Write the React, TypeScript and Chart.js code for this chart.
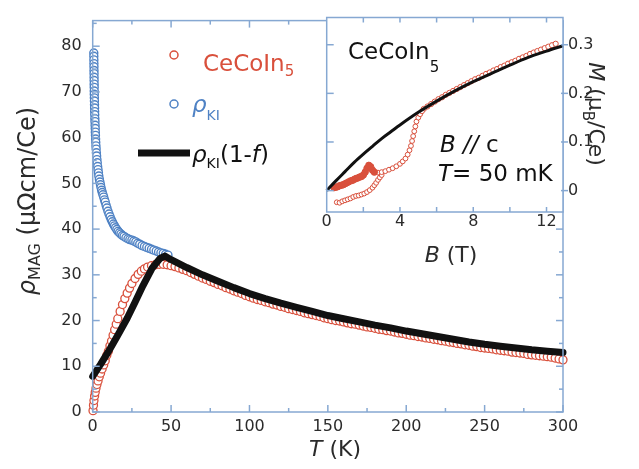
import { useEffect, useRef } from "react";
import { Chart, registerables } from "chart.js";

Chart.register(...registerables);

const FONT = "'DejaVu Sans', 'Liberation Sans', sans-serif";
const FRAME = "#86a8d2";
const TEXT = "#2b2b2b";
const RED = "#d9503c";
const BLUE = "#4f82c4";

// ---- main panel: magnetic resistivity vs temperature ----
const tempTicks = [0, 50, 100, 150, 200, 250, 300];
const rhoTicks = [0, 10, 20, 30, 40, 50, 60, 70, 80];

// rho_KI (open blue circles)
const tempKI = [0.7, 0.72, 0.75, 0.77, 0.8, 0.82, 0.85, 0.87, 0.9, 0.92, 0.95, 0.97, 1.0, 1.05, 1.1, 1.15, 1.2, 1.25, 1.3, 1.37, 1.45, 1.52, 1.6, 1.67, 1.75, 1.85, 1.95, 2.07, 2.2, 2.35, 2.5, 2.7, 2.9, 3.15, 3.4, 3.65, 3.9, 4.25, 4.6, 4.95, 5.3, 5.7, 6.1, 6.55, 7, 7.5, 8, 8.55, 9.1, 9.75, 10.4, 11.1, 11.8, 12.5, 13.2, 13.9, 14.6, 15.4, 16.2, 17.1, 18, 19, 20, 21.2, 22.5, 23.7, 25, 26.2, 27.5, 28.7, 30, 31.5, 33, 34.5, 36, 37.5, 39, 40.5, 42, 43.5, 45, 46.5, 48];
const rhoKI = [78.5, 77.8, 77, 76.2, 75.5, 74.7, 74, 73.2, 72.5, 71.7, 71, 70.2, 69.5, 68.7, 68, 67.2, 66.5, 65.7, 65, 64.2, 63.5, 62.7, 62, 61.2, 60.5, 59.7, 59, 58.2, 57.5, 56.7, 56, 55.2, 54.5, 53.7, 53, 52.3, 51.6, 50.9, 50.3, 49.7, 49.1, 48.5, 48, 47.5, 47, 46.4, 45.9, 45.2, 44.6, 43.9, 43.3, 42.7, 42.1, 41.6, 41.1, 40.7, 40.3, 39.9, 39.5, 39.2, 38.9, 38.6, 38.4, 38.1, 37.9, 37.7, 37.6, 37.4, 37.2, 36.9, 36.7, 36.4, 36.2, 36.0, 35.8, 35.6, 35.4, 35.2, 35.0, 34.8, 34.7, 34.5, 34.3];

// CeCoIn5 (open red circles)
const tempCeCoIn5 = [0.2, 0.5, 0.8, 1.2, 1.6, 2.1, 2.7, 3.4, 4.2, 5, 6, 7, 8, 9, 10, 11, 12, 13, 14, 15, 16, 17.5, 19, 20.5, 22, 23.5, 25, 27, 29, 31, 33, 35, 37.5, 40, 42.5, 45, 47.5, 50,
  52.5, 55, 57.5, 60, 62.5, 65, 67.5, 70, 72.5, 75, 77.5, 80, 82.5, 85, 87.5, 90, 92.5, 95, 97.5, 100,
  102.5, 105, 107.5, 110, 112.5, 115, 117.5, 120, 122.5, 125, 127.5, 130, 132.5, 135, 137.5, 140, 142.5, 145, 147.5, 150,
  152.5, 155, 157.5, 160, 162.5, 165, 167.5, 170, 172.5, 175, 177.5, 180, 182.5, 185, 187.5, 190, 192.5, 195, 197.5, 200,
  202.5, 205, 207.5, 210, 212.5, 215, 217.5, 220, 222.5, 225, 227.5, 230, 232.5, 235, 237.5, 240, 242.5, 245, 247.5, 250,
  252.5, 255, 257.5, 260, 262.5, 265, 267.5, 270, 272.5, 275, 277.5, 280, 282.5, 285, 287.5, 290, 292.5, 295, 297.5, 300];
const rhoCeCoIn5 = [0.3, 1.5, 2.5, 3.5, 4.3, 5.2, 6, 6.8, 7.7, 8.5, 9.4, 10.3, 11.2, 12.4, 13.3, 14.5, 15.5, 16.8, 18, 19.2, 20.4, 22, 23.5, 24.8, 26, 27.1, 28.1, 29.2, 30.1, 30.8, 31.3, 31.7, 32, 32.2, 32.3, 32.3, 32.2, 32,
  31.8, 31.5, 31.2, 30.9, 30.5, 30.1, 29.7, 29.3, 29.0, 28.6, 28.3, 27.9, 27.6, 27.2, 26.9, 26.5, 26.2, 25.9, 25.5, 25.2,
  24.9, 24.6, 24.4, 24.1, 23.9, 23.6, 23.4, 23.1, 22.9, 22.6, 22.4, 22.2, 22.0, 21.7, 21.5, 21.3, 21.1, 20.9, 20.6, 20.4,
  20.2, 20.0, 19.9, 19.7, 19.5, 19.3, 19.2, 19.0, 18.8, 18.6, 18.5, 18.3, 18.1, 18.0, 17.8, 17.7, 17.5, 17.3, 17.2, 17.0,
  16.8, 16.7, 16.5, 16.4, 16.2, 16.1, 15.9, 15.8, 15.6, 15.5, 15.3, 15.2, 15.0, 14.9, 14.7, 14.6, 14.4, 14.3, 14.1, 14.0,
  13.9, 13.8, 13.6, 13.5, 13.4, 13.3, 13.1, 13.0, 12.9, 12.8, 12.6, 12.5, 12.4, 12.3, 12.2, 12.1, 12.0, 11.8, 11.6, 11.4];

// rho_KI(1-f) (thick black line)
const tempFit = [0, 5, 10, 16, 22, 27, 32, 38, 43, 46, 50, 60, 70, 80, 90, 100, 110, 120, 130, 140, 150, 160, 170, 180, 190, 200, 210, 220, 230, 240, 250, 260, 270, 280, 290, 300];
const rhoFit = [7.8, 10.4, 13.2, 16.8, 20.5, 24, 27.6, 31.5, 33.6, 34.1, 33.3, 31.6, 30.0, 28.6, 27.2, 25.9, 24.8, 23.8, 22.9, 22.0, 21.1, 20.4, 19.7, 19.0, 18.4, 17.7, 17.1, 16.5, 15.9, 15.3, 14.8, 14.4, 14.0, 13.6, 13.3, 13.0];

// ---- inset: magnetization vs field, B // c, T = 50 mK ----
const fieldTicks = [0, 4, 8, 12];
const momentTicks = [0, 0.1, 0.2, 0.3];

const fieldCurve = [0, 0.5, 1, 1.5, 2, 2.5, 3, 3.5, 4, 5, 6, 7, 8, 9, 10, 11, 12, 12.9];
const momentCurve = [0, 0.02, 0.039, 0.058, 0.075, 0.091, 0.107, 0.121, 0.135, 0.161, 0.184, 0.205, 0.224, 0.241, 0.258, 0.274, 0.287, 0.298];

const fieldBand = [0.4, 0.5, 0.6, 0.7, 0.8, 0.9, 1.0, 1.1, 1.2, 1.3, 1.4, 1.5, 1.6, 1.7, 1.8, 1.9, 2.0, 2.1, 2.2, 2.3, 2.4, 2.5, 2.6];
const momentBand = [0.006, 0.007, 0.008, 0.01, 0.011, 0.012, 0.014, 0.016, 0.018, 0.02, 0.021, 0.023, 0.025, 0.026, 0.028, 0.029, 0.032, 0.038, 0.046, 0.052, 0.049, 0.042, 0.038];

const fieldRise = [2.8, 3.0, 3.2, 3.4, 3.6, 3.8, 4.0, 4.15, 4.3, 4.42, 4.52, 4.6, 4.66, 4.72, 4.78, 4.84, 4.9, 5.0, 5.1, 5.2];
const momentRise = [0.037, 0.038, 0.04, 0.043, 0.046, 0.05, 0.055, 0.06, 0.066, 0.074, 0.083, 0.092, 0.102, 0.112, 0.122, 0.132, 0.142, 0.15, 0.157, 0.163];

const fieldHigh = [5.3, 5.5, 5.7, 5.9, 6.1, 6.3, 6.5, 6.7, 6.9, 7.1, 7.3, 7.5, 7.7, 7.9, 8.1, 8.3, 8.5, 8.7, 8.9, 9.1, 9.3, 9.5, 9.7, 9.9, 10.1, 10.3, 10.5, 10.7, 10.9, 11.1, 11.3, 11.5, 11.7, 11.9, 12.1, 12.3, 12.5];
const momentHigh = [0.168, 0.173, 0.178, 0.183, 0.188, 0.192, 0.197, 0.201, 0.205, 0.209, 0.213, 0.217, 0.221, 0.225, 0.229, 0.232, 0.236, 0.24, 0.243, 0.247, 0.25, 0.254, 0.257, 0.261, 0.264, 0.267, 0.271, 0.274, 0.277, 0.281, 0.284, 0.287, 0.29, 0.293, 0.296, 0.299, 0.302];

const fieldLow = [0.55, 0.7, 0.85, 1.0, 1.15, 1.3, 1.45, 1.6, 1.75, 1.9, 2.05, 2.2, 2.35, 2.5, 2.6, 2.7, 2.8, 2.9, 3.0];
const momentLow = [-0.024, -0.025, -0.022, -0.02, -0.018, -0.016, -0.013, -0.011, -0.01, -0.008, -0.006, -0.003, 0.001, 0.006, 0.011, 0.016, 0.022, 0.027, 0.032];

const pts = (xs: number[], ys: number[]) => xs.map((x, i) => ({ x, y: ys[i] }));

type Seg = { t: string; f: string; dy?: number; c?: string };

function drawRich(ctx: CanvasRenderingContext2D, segs: Seg[], x: number, y: number, align: "left" | "center", color: string) {
  ctx.textAlign = "left";
  ctx.textBaseline = "alphabetic";
  let w = 0;
  for (const s of segs) {
    ctx.font = s.f;
    w += ctx.measureText(s.t).width;
  }
  let cx = align === "center" ? x - w / 2 : x;
  for (const s of segs) {
    ctx.font = s.f;
    ctx.fillStyle = s.c ?? color;
    ctx.fillText(s.t, cx, y + (s.dy ?? 0));
    cx += ctx.measureText(s.t).width;
  }
}

function line(ctx: CanvasRenderingContext2D, x1: number, y1: number, x2: number, y2: number) {
  ctx.beginPath();
  ctx.moveTo(x1, y1);
  ctx.lineTo(x2, y2);
  ctx.stroke();
}

function marker(ctx: CanvasRenderingContext2D, x: number, y: number, color: string) {
  ctx.lineWidth = 1.5;
  ctx.strokeStyle = color;
  ctx.fillStyle = "#fff";
  ctx.beginPath();
  ctx.arc(x, y, 4, 0, Math.PI * 2);
  ctx.fill();
  ctx.stroke();
}

const f = (size: number, italic = false) => `${italic ? "italic " : ""}${size}px ${FONT}`;

const mainDecor = {
  id: "mainDecor",
  afterDraw(chart: any) {
    const { ctx, chartArea: a, scales } = chart;
    const x = scales.x;
    const y = scales.y;
    ctx.save();
    ctx.strokeStyle = FRAME;
    ctx.lineWidth = 1.5;
    ctx.strokeRect(a.left, a.top, a.right - a.left, a.bottom - a.top);
    for (let v = 0; v <= 300; v += 25) {
      const px = x.getPixelForValue(v);
      const len = v % 50 === 0 ? 7 : 4;
      line(ctx, px, a.bottom, px, a.bottom - len);
      line(ctx, px, a.top, px, a.top + len);
    }
    for (let v = 0; v <= 85; v += 5) {
      const py = y.getPixelForValue(v);
      const len = v % 10 === 0 ? 7 : 4;
      line(ctx, a.left, py, a.left + len, py);
      line(ctx, a.right, py, a.right - len, py);
    }

    // axis titles
    drawRich(ctx, [{ t: "T", f: f(22, true) }, { t: " (K)", f: f(22) }], 335, 456, "center", TEXT);
    ctx.save();
    ctx.translate(34.5, 201);
    ctx.rotate(-Math.PI / 2);
    drawRich(ctx, [
      { t: "ρ", f: f(24, true) },
      { t: "MAG", f: f(16), dy: 5 },
      { t: " (μΩcm/Ce)", f: f(24) },
    ], 0, 0, "center", TEXT);
    ctx.restore();

    // legend
    marker(ctx, 174, 55, RED);
    drawRich(ctx, [{ t: "CeCoIn", f: f(23) }, { t: "5", f: f(15), dy: 5 }], 203, 71, "left", RED);

    marker(ctx, 174, 104, BLUE);
    drawRich(ctx, [{ t: "ρ", f: f(23, true) }, { t: "KI", f: f(14), dy: 8 }], 192, 112, "left", BLUE);

    ctx.strokeStyle = "#111";
    ctx.lineWidth = 7;
    line(ctx, 138, 153, 190, 153);
    drawRich(ctx, [
      { t: "ρ", f: f(23, true) },
      { t: "KI", f: f(14), dy: 6 },
      { t: "(1-", f: f(23) },
      { t: "f", f: f(23, true) },
      { t: ")", f: f(23) },
    ], 192, 162, "left", "#111");
    ctx.restore();
  },
};

const insetDecor = {
  id: "insetDecor",
  beforeDraw(chart: any) {
    const { ctx, chartArea: a } = chart;
    ctx.save();
    ctx.fillStyle = "#fff";
    ctx.fillRect(a.left, a.top, a.right - a.left, a.bottom - a.top);
    ctx.restore();
  },
  afterDraw(chart: any) {
    const { ctx, chartArea: a, scales } = chart;
    const x = scales.x;
    const y = scales.y;
    ctx.save();
    ctx.strokeStyle = FRAME;
    ctx.lineWidth = 1.5;
    ctx.strokeRect(a.left, a.top, a.right - a.left, a.bottom - a.top);
    for (let v = 2; v <= 12; v += 2) {
      const px = x.getPixelForValue(v);
      line(ctx, px, a.bottom, px, a.bottom - 5);
      line(ctx, px, a.top, px, a.top + 5);
    }
    for (const v of momentTicks) {
      const py = y.getPixelForValue(v);
      line(ctx, a.left, py, a.left + 7, py);
      line(ctx, a.right - 2, py, a.right + 5, py);
    }

    drawRich(ctx, [{ t: "CeCoIn", f: f(23) }, { t: "5", f: f(15), dy: 13 }], 48, 59, "left", "#111");
    drawRich(ctx, [{ t: "B //", f: f(23, true) }, { t: " c", f: f(23) }], 140, 152, "left", "#111");
    drawRich(ctx, [{ t: "T", f: f(23, true) }, { t: "= 50 mK", f: f(23) }], 138, 181, "left", "#111");

    drawRich(ctx, [{ t: "B", f: f(22, true) }, { t: " (T)", f: f(22) }], 151, 262, "center", TEXT);
    ctx.translate(289, 114);
    ctx.rotate(Math.PI / 2);
    drawRich(ctx, [
      { t: "M", f: f(22, true) },
      { t: " (μ", f: f(22) },
      { t: "B", f: f(15), dy: 6 },
      { t: "/Ce)", f: f(22) },
    ], 0, 0, "center", TEXT);
    ctx.restore();
  },
};

const tickFont = { family: FONT, size: 16 };

export default function App() {
  const mainRef = useRef<HTMLCanvasElement | null>(null);
  const insetRef = useRef<HTMLCanvasElement | null>(null);

  useEffect(() => {
    if (!mainRef.current || !insetRef.current) return;

    const openCircles = (data: any, color: string, r: number, bw: number) => ({
      data,
      pointRadius: r,
      pointBorderWidth: bw,
      pointBorderColor: color,
      pointBackgroundColor: "#fff",
      clip: false,
    });

    const main = new Chart(mainRef.current, {
      type: "scatter",
      data: {
        datasets: [
          {
            label: "ρKI(1-f)",
            data: pts(tempFit, rhoFit),
            showLine: true,
            borderColor: "#111",
            borderWidth: 7,
            pointRadius: 0,
            borderJoinStyle: "round",
            borderCapStyle: "round",
            tension: 0,
            clip: false,
          } as any,
          { label: "CeCoIn5", ...openCircles(pts(tempCeCoIn5, rhoCeCoIn5), RED, 4, 1.3) } as any,
          { label: "ρKI", ...openCircles(pts(tempKI, rhoKI), BLUE, 4, 1.4) } as any,
        ],
      },
      options: {
        animation: false,
        responsive: true,
        maintainAspectRatio: false,
        layout: { padding: { top: 17.5, right: 76, left: 0, bottom: 0 } },
        plugins: { legend: { display: false }, tooltip: { enabled: false } },
        scales: {
          x: {
            type: "linear",
            min: 0,
            max: 300,
            grid: { display: false, drawTicks: false },
            border: { display: false },
            ticks: { font: tickFont, color: TEXT, padding: 5, maxRotation: 0 },
            afterBuildTicks: (s: any) => {
              s.ticks = tempTicks.map((v) => ({ value: v }));
            },
            afterFit: (s: any) => {
              s.height = 57;
            },
          },
          y: {
            type: "linear",
            min: 0,
            max: 85.6,
            grid: { display: false, drawTicks: false },
            border: { display: false },
            ticks: { font: tickFont, color: TEXT, padding: 11 },
            afterBuildTicks: (s: any) => {
              s.ticks = rhoTicks.map((v) => ({ value: v }));
            },
            afterFit: (s: any) => {
              s.width = 92.7;
            },
          },
        },
      } as any,
      plugins: [mainDecor],
    });

    const inset = new Chart(insetRef.current, {
      type: "scatter",
      data: {
        datasets: [
          {
            label: "fit",
            data: pts(fieldCurve, momentCurve),
            showLine: true,
            borderColor: "#111",
            borderWidth: 3,
            pointRadius: 0,
            cubicInterpolationMode: "monotone",
            clip: false,
          } as any,
          {
            label: "band",
            data: pts(fieldBand, momentBand),
            pointRadius: 3.2,
            pointBorderWidth: 1,
            pointBorderColor: RED,
            pointBackgroundColor: RED,
            clip: false,
          } as any,
          { label: "rise", ...openCircles(pts(fieldRise, momentRise), RED, 2.4, 1) } as any,
          { label: "high", ...openCircles(pts(fieldHigh, momentHigh), RED, 2.6, 1) } as any,
          { label: "low", ...openCircles(pts(fieldLow, momentLow), RED, 2.4, 1) } as any,
        ],
      },
      options: {
        animation: false,
        responsive: true,
        maintainAspectRatio: false,
        layout: { padding: { top: 17.5, right: 0, left: 26.7, bottom: 0 } },
        plugins: { legend: { display: false }, tooltip: { enabled: false } },
        scales: {
          x: {
            type: "linear",
            min: 0,
            max: 12.9,
            grid: { display: false, drawTicks: false },
            border: { display: false },
            ticks: { font: tickFont, color: TEXT, padding: 0, maxRotation: 0 },
            afterBuildTicks: (s: any) => {
              s.ticks = fieldTicks.map((v) => ({ value: v }));
            },
            afterFit: (s: any) => {
              s.height = 68;
            },
          },
          y: {
            type: "linear",
            position: "right",
            min: -0.044,
            max: 0.356,
            grid: { display: false, drawTicks: false },
            border: { display: false },
            ticks: { font: tickFont, color: TEXT, padding: 5, callback: (v: any) => String(v) },
            afterBuildTicks: (s: any) => {
              s.ticks = momentTicks.map((v) => ({ value: v }));
            },
            afterFit: (s: any) => {
              s.width = 76;
            },
          },
        },
      } as any,
      plugins: [insetDecor],
    });

    return () => {
      main.destroy();
      inset.destroy();
    };
  }, []);

  return (
    <div style={{ position: "absolute", left: 0, top: 0, width: 639, height: 469, background: "#fff" }}>
      <div style={{ position: "absolute", left: 0, top: 0, width: 639, height: 469 }}>
        <canvas ref={mainRef} />
      </div>
      <div style={{ position: "absolute", left: 300, top: 0, width: 339, height: 280 }}>
        <canvas ref={insetRef} />
      </div>
    </div>
  );
}
